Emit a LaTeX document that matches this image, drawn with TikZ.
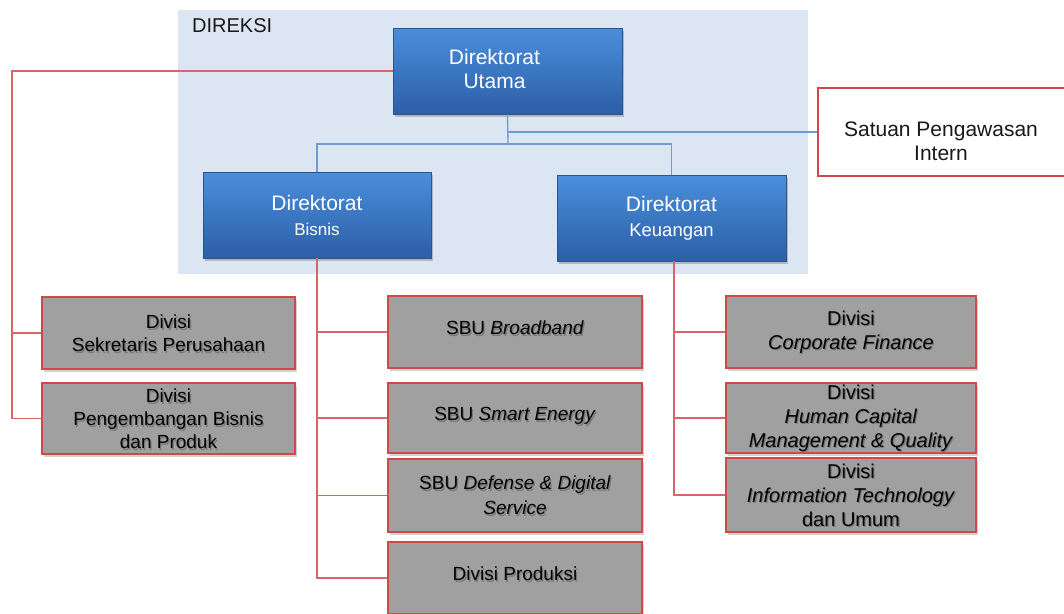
\documentclass[tikz,border=0pt]{standalone}
\usepackage{fontspec}
\setmainfont{Liberation Sans}
\usetikzlibrary{shadows}
\definecolor{bgblue}{HTML}{DCE6F2}
\definecolor{btop}{HTML}{4A8EDC}
\definecolor{bbot}{HTML}{2C5FA6}
\definecolor{bdraw}{HTML}{2A558F}
\definecolor{bline}{HTML}{6F9BD0}
\definecolor{rline}{HTML}{D96666}
\definecolor{rdraw}{HTML}{D04848}
\definecolor{gfill}{HTML}{A0A0A0}
\definecolor{tshade}{HTML}{7A7A7A}
\newcommand{\upby}[2]{\raisebox{#1}[\height][\depth]{#2}}
\newcommand{\tsh}[1]{\rlap{\kern1.3pt\raisebox{-1.8pt}[0pt][0pt]{\textcolor{tshade}{#1}}}#1}
\tikzset{
  bbox/.style={rectangle, draw=bdraw, line width=0.8pt, top color=btop, bottom color=bbot,
    text=white, align=center, inner sep=0pt,
    font=\fontsize{21}{24}\selectfont,
    drop shadow={opacity=0.45, shadow xshift=2pt, shadow yshift=-2.5pt}},
  gbox/.style={rectangle, draw=rdraw, line width=1.3pt, fill=gfill,
    text=black, align=center, inner sep=0pt,
    font=\fontsize{19}{23}\selectfont,
    drop shadow={opacity=0.35, shadow xshift=2pt, shadow yshift=-2.5pt}},
  rbox/.style={gbox, font=\fontsize{20}{24}\selectfont},
  spibox/.style={rectangle, draw=rdraw, line width=1.2pt, fill=white,
    inner sep=0pt},
  blueline/.style={draw=bline, line width=1.3pt},
  redline/.style={draw=rline, line width=1.4pt},
}
\begin{document}
\begin{tikzpicture}[x=1pt,y=-1pt]
\useasboundingbox (0,0) rectangle (1064,613);
\clip (0,0) rectangle (1064,613);
\fill[white] (0,0) rectangle (1064,613);
% background
\fill[bgblue] (178,10) rectangle (808,274);
\node[anchor=base west, font=\fontsize{20}{24}\selectfont, text=black!90, inner sep=0pt] (direksi) at (192,32) {DIREKSI};

% directorate boxes
\node[bbox, minimum width=229pt, minimum height=86pt] (utama) at (507.5,71) {\upby{2pt}{Direktorat\kern26pt}\\\upby{2pt}{Utama\kern26pt}};
\node[bbox, minimum width=228pt, minimum height=86pt] (bisnis) at (317,215) {Direktorat\\[1pt]{\fontsize{17}{18}\selectfont Bisnis}};
\node[bbox, minimum width=229pt, minimum height=86pt] (keu) at (671.5,218) {Direktorat\\[1pt]{\fontsize{18.5}{18}\selectfont Keuangan}};
\node[spibox, minimum width=260pt, minimum height=88pt] (spi) at (948,132) {};
\node[font=\fontsize{21}{24}\selectfont, text=black!90, align=center, inner sep=0pt] (spitext) at (941,141) {Satuan Pengawasan\\Intern};

% left column
\node[gbox, minimum width=253pt, minimum height=72pt] (sek) at (168.5,333) {\tsh{Divisi}\\\tsh{Sekretaris Perusahaan}};
\node[gbox, minimum width=253pt, minimum height=71pt] (peng) at (168.5,418.5) {\tsh{Divisi}\\\tsh{Pengembangan Bisnis}\\\tsh{dan Produk}};

% SBU column
\node[gbox, minimum width=254pt, minimum height=72pt] (bb) at (515,332) {\upby{4pt}{\tsh{SBU \textit{Broadband}}}};
\node[gbox, minimum width=254pt, minimum height=70pt] (se) at (515,418) {\upby{2pt}{\tsh{SBU \textit{Smart Energy}}}};
\node[gbox, minimum width=254pt, minimum height=73pt] (dd) at (515,495.5) {\tsh{SBU \textit{Defense \& Digital}}\\[2pt]\tsh{\textit{Service}}};
\node[gbox, minimum width=254pt, minimum height=72pt] (prod) at (515,578) {\upby{4pt}{\tsh{Divisi Produksi}}};

% right column
\node[rbox, minimum width=250pt, minimum height=72pt] (cf) at (851,332) {\tsh{Divisi}\\\tsh{\textit{Corporate Finance}}};
\node[rbox, minimum width=250pt, minimum height=70pt] (hc) at (851,418) {\tsh{Divisi}\\\tsh{\textit{Human Capital}}\\\tsh{\textit{Management \& Quality}}};
\node[rbox, minimum width=250pt, minimum height=74pt] (it) at (851,495) {\tsh{Divisi}\\\tsh{\textit{Information Technology}}\\\tsh{dan Umum}};

% blue connectors
\coordinate (jb) at (508,144);
\draw[blueline] (utama.south) -- (jb);
\draw[blueline] (utama.south |- 0,132) -- (spi.west);
\draw[blueline] (bisnis.north) |- (jb) -| (keu.north);

% red connectors
\coordinate (lb) at (12,418.5);
\draw[redline] (utama.west) -| (lb) -- (peng.west);
\draw[redline] (sek.west -| lb) -- (sek.west);

\draw[redline] (bisnis.south) |- (prod.west);
\draw[redline] (bb.west -| bisnis.south) -- (bb.west);
\draw[redline] (se.west -| bisnis.south) -- (se.west);
\draw[redline] (dd.west -| bisnis.south) -- (dd.west);

\coordinate (kb) at (674,261);
\draw[redline] (kb) |- (it.west);
\draw[redline] (cf.west -| kb) -- (cf.west);
\draw[redline] (hc.west -| kb) -- (hc.west);
\end{tikzpicture}
\end{document}
